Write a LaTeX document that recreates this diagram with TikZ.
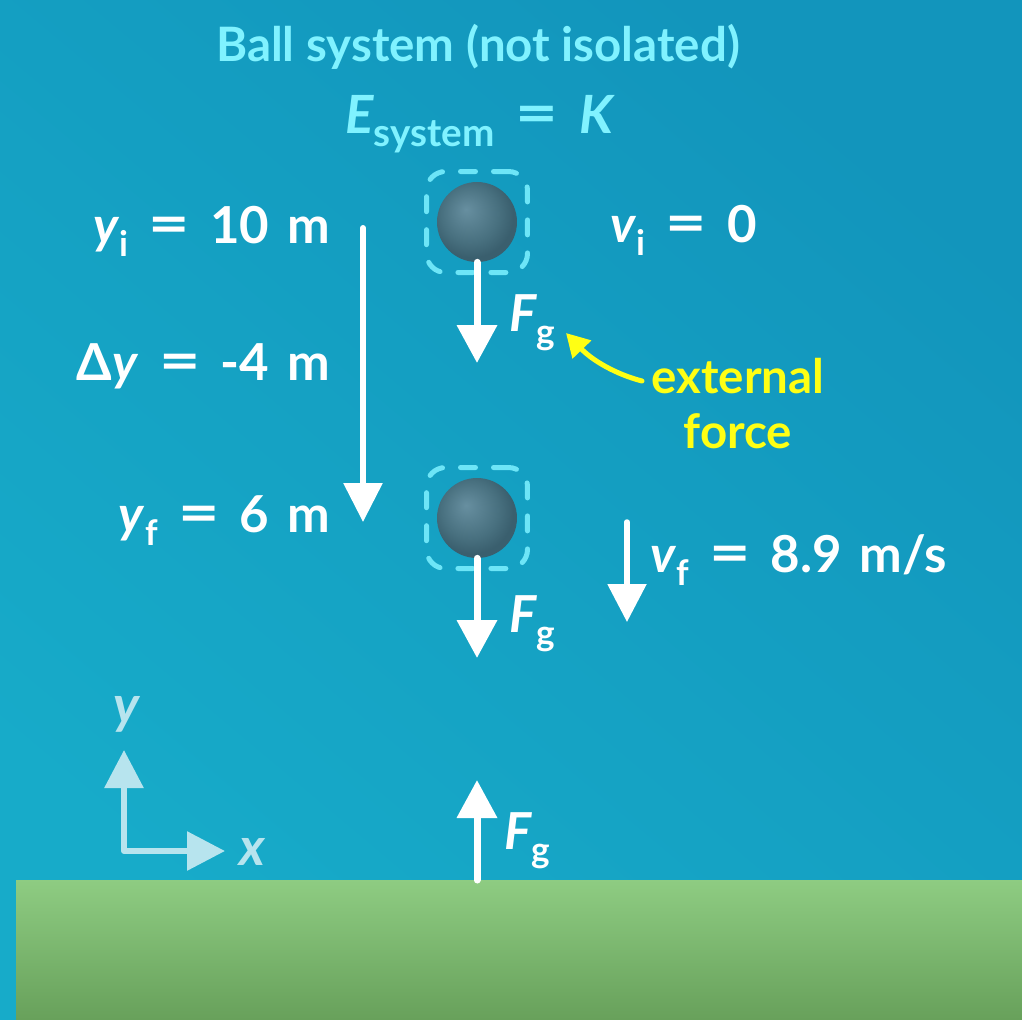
\documentclass[tikz,border=0pt]{standalone}
\usepackage{fontspec}
\setmainfont{Lato}
\usetikzlibrary{arrows.meta}
\definecolor{bgT}{HTML}{1295BC}
\definecolor{bgB}{HTML}{17ABC9}
\definecolor{cyantxt}{HTML}{80F2FF}
\definecolor{dashc}{HTML}{6DE5F7}
\definecolor{yel}{HTML}{FFFF14}
\definecolor{axc}{HTML}{B7E4EE}
\definecolor{grT}{HTML}{8ECC82}
\definecolor{grB}{HTML}{68A15B}
\definecolor{ballA}{HTML}{678FA0}
\definecolor{ballM}{HTML}{48707F}
\definecolor{ballB}{HTML}{3A5F6E}
\pgfdeclareradialshading{ballsh}{\pgfpoint{-7bp}{8bp}}{color(0bp)=(ballA); color(18bp)=(ballM); color(26bp)=(ballB); color(50bp)=(ballB)}
\newcommand{\sbs}[1]{\raisebox{-0.26em}{\fontsize{20}{23}\selectfont #1}}
\newcommand{\eqs}{\hspace{0.4em}\scalebox{1.4}[1.1]{=}\hspace{0.4em}}
\begin{document}
\begin{tikzpicture}[x=0.02cm,y=-0.02cm,
  lbl/.style={text=white,font=\fontsize{29}{34}\selectfont\bfseries,inner sep=0,outer sep=0},
  ttl/.style={text=cyantxt,font=\fontsize{27}{32}\selectfont\bfseries,inner sep=0,outer sep=0},
  note/.style={text=yel,font=\fontsize{27}{32}\selectfont\bfseries,inner sep=0,outer sep=0},
  axlbl/.style={text=axc,font=\fontsize{30}{34}\selectfont\bfseries\itshape,inner sep=0,outer sep=0},
  ball/.style={circle,minimum size=1.6cm,inner sep=0,shade,shading=ballsh},
  sysbox/.style={draw=dashc,line width=0.1cm,rounded corners=0.38cm,minimum width=2.02cm,minimum height=2.02cm,inner sep=0,dash pattern=on 0.3cm off 0.36cm,line cap=round},
  force/.style={draw=white,line width=0.14cm,line cap=round,-{Triangle[width=0.78cm,length=0.76cm]}},
  disp/.style={draw=white,line width=0.12cm,line cap=round,-{Triangle[width=0.76cm,length=0.78cm]}},
  vel/.style={draw=white,line width=0.11cm,line cap=round,-{Triangle[width=0.76cm,length=0.76cm]}},
  axis/.style={draw=axc,line width=0.12cm,line join=round,{Triangle[width=0.76cm,length=0.76cm]}-{Triangle[width=0.76cm,length=0.76cm]}},
  pointer/.style={draw=yel,line width=0.1cm,line cap=round,-{Triangle[width=0.5cm,length=0.46cm]}},
  ground/.style={minimum width=20.12cm,minimum height=2.78cm,inner sep=0,outer sep=0,top color=grT,bottom color=grB}]
\useasboundingbox (0,0) rectangle (1022,1019);
\shade[top color=bgT,bottom color=bgB,shading angle=-40] (0,0) rectangle (1022,1019);

% ground
\node[ground] (gnd) at (519,949.5) {};

% title
\node[ttl,anchor=base] (title) at (478,61) {Ball system (not isolated)};
\node[ttl,anchor=base west,font=\fontsize{30}{34}\selectfont\bfseries] (eq) at (345,133)
  {\textit{E}\raisebox{-0.26em}{\fontsize{22}{26}\selectfont system}\eqs\textit{K}};

% balls and system boxes
\node[sysbox] (s1) at (477,222) {};
\node[ball] (b1) at (477,222) {};
\node[sysbox] (s2) at (477,518) {};
\node[ball] (b2) at (477,518) {};

% gravity arrows
\coordinate (f1tip) at (477,363);
\coordinate (f2tip) at (477,658);
\coordinate (f3tip) at (477,780);
\draw[force] (b1.south) -- (f1tip);
\draw[force] (b2.south) -- (f2tip);
\draw[force] (gnd.north -| b1) -- (f3tip);
\node[lbl,anchor=base west] (F1) at (509,331) {\textit{F}\sbs{g}};
\node[lbl,anchor=base west] (F2) at (509,632) {\textit{F}\sbs{g}};
\node[lbl,anchor=base west] (F3) at (504,849) {\textit{F}\sbs{g}};

% external force note
\node[note,anchor=base] (ext) at (738,393) {external};
\node[note,anchor=base] (frc) at (738,448) {force};
\coordinate (ytail) at (642,381);
\coordinate (yhead) at (566,333);
\draw[pointer] (ytail) .. controls (615,374) and (592,360) .. (yhead);

% position labels
\node[lbl,anchor=base east] (yi) at (330,243) {\textit{y}\sbs{i}\eqs10\hspace{0.35em}m};
\node[lbl,anchor=base east] (dy) at (330,380) {Δ\textit{y}\eqs-4\hspace{0.35em}m};
\node[lbl,anchor=base east] (yf) at (330,532) {\textit{y}\sbs{f}\eqs6\hspace{0.35em}m};
\coordinate (dtop) at (363,228);
\coordinate (dbot) at (363,522);
\draw[disp] (dtop) -- (dbot);

% velocity labels
\node[lbl,anchor=base west] (vi) at (610,242) {\textit{v}\sbs{i}\eqs0};
\node[lbl,anchor=base west] (vf) at (650,572) {\textit{v}\sbs{f}\eqs8.9\hspace{0.35em}m/s};
\coordinate (vtop) at (627,522);
\coordinate (vbot) at (627,622);
\draw[vel] (vtop) -- (vbot);

% axes
\coordinate (ax0) at (124,851);
\coordinate (aY) at (124,750);
\coordinate (aX) at (225,851);
\draw[axis] (aY) -- (ax0) -- (aX);
\node[axlbl,anchor=base] (ylab) at (126,723) {y};
\node[axlbl,anchor=base west] (xlab) at (239,865) {x};
\end{tikzpicture}
\end{document}
